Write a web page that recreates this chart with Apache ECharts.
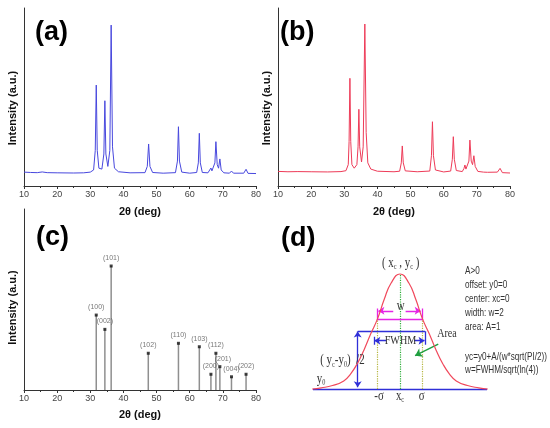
<!DOCTYPE html>
<html>
<head>
<meta charset="utf-8">
<script src="https://cdn.jsdelivr.net/npm/echarts@6/dist/echarts.min.js"></script>
<style>
  html, body { margin: 0; padding: 0; background: #fff; }
  #chart { width: 550px; height: 428px; }
</style>
</head>
<body>
<div id="chart"></div>
<script>
/* ── Data ─────────────────────────────────────────────────────────── */
// (a) measured pattern, [2theta, intensity]
const patternA = [
  [10,7.8],[12,7.6],[14,7.5],[15.5,7.9],[17,7.5],[20,7.4],[25,7.3],[28,7.4],[30,7.8],[31,9],
  [31.5,20],[31.8,56.7],[32.1,20],[32.6,10],[33.5,9.5],[34.1,18],[34.4,47.9],[34.7,18],
  [35.3,11],[35.9,20],[36.3,90.4],[36.7,22],[37.3,10],[38.5,8],[42,7.4],[46.5,7.5],
  [47.2,11],[47.6,23.6],[48,11],[48.8,7.6],[52,7.2],[55.7,7.5],[56.3,14],[56.6,33.3],
  [56.9,14],[57.6,7.8],[60,7.2],[62.1,7.6],[62.6,13],[62.9,29.6],[63.2,13],[63.8,7.6],
  [65.5,7.4],[66.1,8.5],[66.4,10.1],[66.7,8.5],[67.3,8],[67.6,13],[67.9,24.9],[68.3,12],
  [68.7,10],[69.1,15.2],[69.5,9],[70.3,7.4],[72,7.2],[72.6,8.4],[73.2,7.2],[76.3,7.2],
  [77,9.4],[77.6,7.1],[80,7]
];
// (b) measured pattern
const patternB = [
  [10,8.2],[13,8.0],[16,8.1],[20,8.0],[25,7.9],[29,8.1],[30.5,8.6],[31.2,12],[31.45,25],
  [31.7,60.5],[31.95,25],[32.3,12],[33,10],[33.8,12],[34.15,22],[34.4,43.1],[34.65,22],
  [35.2,13.5],[35.7,22],[36.2,91],[36.6,30],[37.1,13],[38,9.5],[40,8.3],[45,8],[46.7,8.3],
  [47.2,13],[47.5,22.5],[47.8,13],[48.4,8.5],[52,8],[55.8,8.4],[56.3,17],[56.6,36.1],
  [56.9,17],[57.5,9],[60,7.9],[62.1,8.4],[62.6,15],[62.9,27.7],[63.2,15],[63.8,8.7],
  [65.6,8.1],[66.1,9.8],[66.4,11.8],[66.7,9.5],[67.3,9.2],[67.6,14],[67.9,25.8],[68.3,14],
  [68.7,12],[69.1,17],[69.5,11],[70.3,8.2],[72,7.8],[72.6,8.8],[73.2,7.7],[76.2,7.8],
  [77,9.9],[77.7,7.5],[80,7.3]
];
// (c) reference stick pattern
const stickPos = [31.8, 34.4, 36.3, 47.5, 56.6, 62.9, 66.4, 67.9, 69.1, 72.6, 77.0];
const stickInt = [41.4, 33.5, 68.5, 20.3, 25.8, 23.9, 8.7, 20.3, 12.9, 7.3, 8.7];
const hkl = ['(100)','(002)','(101)','(102)','(110)','(103)','(200)','(112)','(201)','(004)','(202)'];

// (d) gaussian sketch, x in sigma units, y relative to peak
const gaussX = [-3.9,-3.5,-3,-2.5,-2.2,-1.9,-1.6,-1.3,-1,-0.7,-0.4,0,0.4,0.7,1,1.3,1.6,1.9,2.2,2.5,3,3.5,3.9];
const gaussY = [0,0.01,0.03,0.07,0.13,0.22,0.34,0.48,0.61,0.78,0.92,1,0.92,0.78,0.61,0.48,0.34,0.22,0.13,0.07,0.03,0.01,0];

// (d) annotation geometry (same units as the sketch)
const baseline   = [[-3.87,0],[3.87,0]];
const sigmaDots  = [[[-1,0],[-1,0.61]], [[1,0],[1,0.61]]];
const centerDots = [[0,0],[0,1]];
const wBar       = [[[-1,0.61],[1,0.61]], [[-1,0.6],[-1,0.7]], [[1,0.6],[1,0.7]]];
const wArrows    = [[[-0.3,0.68],[-0.96,0.68]], [[0.25,0.68],[0.92,0.68]]];
const fwhmBox    = [[[-1.88,0.502],[1.11,0.502]], [[1.11,0.502],[1.11,0.385]], [[-1.16,0.455],[-1.16,0.385]]];
const fwhmArrows = [[[-0.6,0.42],[-1.14,0.42]], [[0.62,0.42],[1.09,0.42]]];
const halfArrow  = [[-1.88,0.015],[-1.88,0.5]];
const areaArrow  = [[1.70,0.391],[0.67,0.29]];

// (d) text: [x, y, text]
const sketchLabels = [
  [0.03, 1.093, '{n|( x}{s|c}{n| , y}{s|c}{n| )}'],
  [-2.56, 0.246, '{n|( y}{s|c}{n|-y}{s|0}{n|)  /2}'],
  [-3.51, 0.087, '{n|y}{s|0}'],
  [0, -0.06, '{n|x}{s|c}'],
  [-0.93, -0.067, '{n|-σ}'],
  [0.96, -0.067, '{n|σ}'],
  [0.03, 0.715, '{n|w}'],
  [0.02, 0.42, '{m|FWHM}'],
  [2.09, 0.484, '{m|Area}']
];
const formulaLines = ['A>0','offset: y0=0','center: xc=0','width: w=2','area: A=1','yc=y0+A/(w*sqrt(PI/2))','w=FWHM/sqrt(ln(4))'];
const formulaY     = [1.026, 0.904, 0.783, 0.661, 0.539, 0.278, 0.165];
const formulaX     = 2.89;

/* ── Helpers ──────────────────────────────────────────────────────── */
const SANS = '"Liberation Sans", Arial, sans-serif';
const SERIF = '"Liberation Serif", "Times New Roman", serif';

function xrdXAxis(gridIndex) {
    return {
        type: 'value', gridIndex, min: 10, max: 80, interval: 10,
        name: '2θ (deg)', nameLocation: 'middle', nameGap: 20,
        nameTextStyle: { fontFamily: SANS, fontWeight: 'bold', fontSize: 11, color: '#111' },
        axisLine: { lineStyle: { color: '#333', width: 1 } },
        axisTick: { show: true, length: 3, lineStyle: { color: '#333' } },
        minorTick: { show: true, splitNumber: 2, length: 2, lineStyle: { color: '#333' } },
        axisLabel: { fontFamily: SANS, fontSize: 9, color: '#444', margin: 4 },
        splitLine: { show: false }
    };
}

function xrdYAxis(gridIndex, shift) {
    return {
        type: 'value', gridIndex, min: 0, max: 100,
        name: 'Intensity (a.u.)', nameLocation: 'middle', nameGap: 6,
        nameTextStyle: { fontFamily: SANS, fontWeight: 'bold', fontSize: 11, color: '#111', padding: [0, shift, 0, 0] },
        axisLine: { show: true, lineStyle: { color: '#333', width: 1 } },
        axisTick: { show: false }, axisLabel: { show: false }, splitLine: { show: false }
    };
}

function segments(list, color, width, type, symbol) {
    return {
        type: 'lines', coordinateSystem: 'cartesian2d', xAxisIndex: 3, yAxisIndex: 3,
        symbol: symbol || ['none', 'none'], symbolSize: 6, silent: true, z: 3,
        lineStyle: { color, width, type: type || 'solid', opacity: 1 },
        data: list.map(c => ({ coords: c }))
    };
}

const panelTitle = (text, left, top) => ({
    text, left, top, padding: 0,
    textStyle: { fontFamily: SANS, fontWeight: 'bold', fontSize: 27, color: '#000' }
});

/* ── Chart ────────────────────────────────────────────────────────── */
const chart = echarts.init(document.getElementById('chart'), null, { renderer: 'canvas' });

chart.setOption({
    animation: false,
    backgroundColor: '#fff',
    title: [
        panelTitle('(a)', 35, 19),
        panelTitle('(b)', 280, 19),
        panelTitle('(c)', 36, 224),
        panelTitle('(d)', 281, 225)
    ],
    grid: [
        { left: 24, top: 8, width: 232, height: 178 },
        { left: 278, top: 8, width: 232, height: 178 },
        { left: 24, top: 209, width: 232, height: 181 },
        { left: 310, top: 251, width: 180, height: 161 }
    ],
    xAxis: [
        xrdXAxis(0), xrdXAxis(1), Object.assign(xrdXAxis(2), { nameGap: 19 }),
        { type: 'value', gridIndex: 3, min: -4, max: 4, show: false }
    ],
    yAxis: [
        xrdYAxis(0, 22), xrdYAxis(1, 22), xrdYAxis(2, 16),
        { type: 'value', gridIndex: 3, min: -0.2, max: 1.2, show: false }
    ],
    series: [
        {
            type: 'line', xAxisIndex: 0, yAxisIndex: 0, data: patternA,
            showSymbol: false, lineStyle: { color: '#4848de', width: 1 }, silent: true
        },
        {
            type: 'line', xAxisIndex: 1, yAxisIndex: 1, data: patternB,
            showSymbol: false, lineStyle: { color: '#ee3b58', width: 1 }, silent: true
        },
        {
            type: 'bar', xAxisIndex: 2, yAxisIndex: 2, barWidth: 1.5,
            data: stickPos.map((x, i) => [x, stickInt[i]]),
            itemStyle: { color: '#8f8f8f' }, silent: true
        },
        {
            type: 'scatter', xAxisIndex: 2, yAxisIndex: 2, symbol: 'rect', symbolSize: 3,
            data: stickPos.map((x, i) => ({
                value: [x, stickInt[i]], name: hkl[i],
                label: hkl[i] === '(201)' ? { offset: [3, 0] } : undefined
            })),
            itemStyle: { color: '#111' }, silent: true,
            label: { show: true, position: 'top', distance: 3, formatter: '{b}', fontFamily: SANS, fontSize: 7, color: '#555' }
        },
        // (d) gaussian sketch
        segments([baseline], '#2f2fd8', 1.4),
        {
            type: 'line', xAxisIndex: 3, yAxisIndex: 3, smooth: true, showSymbol: false, silent: true, z: 4,
            data: gaussX.map((x, i) => [x, gaussY[i]]),
            lineStyle: { color: '#f0495c', width: 1.2 }
        },
        segments(sigmaDots, '#b4b43c', 1.2, 'dotted'),
        segments([centerDots], '#2fae3a', 1.2, 'dotted'),
        segments(wBar, '#e624e6', 1.3),
        segments(wArrows, '#e624e6', 1.3, 'solid', ['none', 'arrow']),
        segments(fwhmBox, '#2f2fd8', 1.3),
        segments(fwhmArrows, '#2f2fd8', 1.3, 'solid', ['none', 'arrow']),
        segments([halfArrow], '#2f2fd8', 1.3, 'solid', ['arrow', 'arrow']),
        Object.assign(segments([areaArrow], '#1f9f3f', 1.4, 'solid', ['none', 'arrow']), { symbolSize: 7 })
    ]
});

/* ── (d) text, placed through the sketch's axes ───────────────────── */
const rich = {
    n: { fontFamily: SERIF, fontSize: 14, fill: '#333', lineHeight: 16 },
    m: { fontFamily: SERIF, fontSize: 13, fill: '#333', lineHeight: 16 },
    s: { fontFamily: SERIF, fontSize: 8, fill: '#333', lineHeight: 16, verticalAlign: 'bottom' }
};
const toPx = (x, y) => chart.convertToPixel({ gridIndex: 3 }, [x, y]);

const graphics = sketchLabels.map(([x, y, t]) => {
    const [px, py] = toPx(x, y);
    return {
        type: 'text', x: px, y: py, scaleX: 0.78, z: 10, silent: true,
        style: { text: t, rich, align: 'center', verticalAlign: 'middle' }
    };
});
formulaLines.forEach((t, i) => {
    const [px, py] = toPx(formulaX, formulaY[i]);
    graphics.push({
        type: 'text', x: px, y: py, scaleX: 0.74, z: 10, silent: true,
        style: {
            text: t, font: '11px "Liberation Sans", Arial, sans-serif',
            fill: '#333', align: 'left', verticalAlign: 'middle'
        }
    });
});
chart.setOption({ graphic: graphics });

window.addEventListener('resize', () => chart.resize());
</script>
</body>
</html>
